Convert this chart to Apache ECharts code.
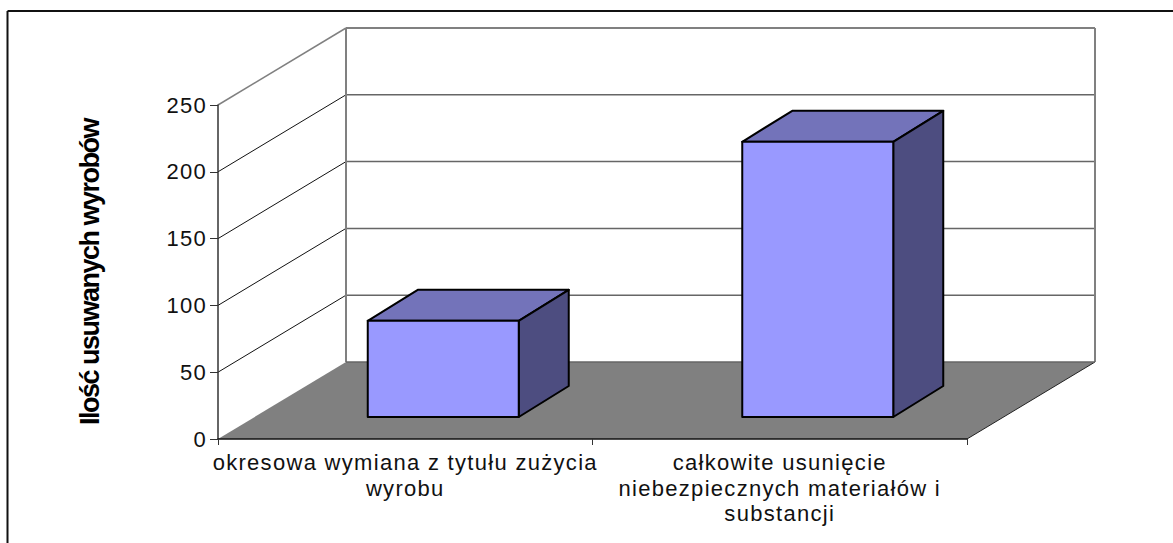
<!DOCTYPE html>
<html>
<head>
<meta charset="utf-8">
<title>Ilość usuwanych wyrobów</title>
<script src="https://cdn.jsdelivr.net/npm/echarts@6/dist/echarts.min.js"></script>
<style>
  html, body { margin: 0; padding: 0; background: #ffffff; }
  #chart { width: 1173px; height: 543px; }
  /* the original text is set wider than Arial, the bold axis title squeezed */
  #chart text { letter-spacing: 1.3px; }
  #chart text[style*="bold"] { letter-spacing: -1.5px; }
</style>
</head>
<body>
<div id="chart"></div>
<script>
  const categories = [
    'okresowa wymiana z tytułu zużycia\nwyrobu',
    'całkowite usunięcie\nniebezpiecznych materiałów i\nsubstancji'
  ];
  const removedCounts = [72, 206];
  const yTicks = [0, 50, 100, 150, 200, 250];
  const yTitle = 'Ilość usuwanych wyrobów';

  const fontName = '"Liberation Sans", Arial, sans-serif';

  // fake 3D: how far the back wall and the bar depth sit from the front plane
  const WALL_DX = 128, WALL_DY = -77;
  const BAR_SHIFT_X = 38, BAR_SHIFT_Y = -22;
  const BAR_DX = 50, BAR_DY = -31;
  const BAR_RATIO = 151 / 374.5;

  function renderWalls(params, api) {
    const band = api.size([1, 0])[0];
    const left = api.coord([0, 0])[0] - band / 2;
    const right = left + band * categories.length;
    const y0 = api.coord([0, 0])[1];
    const children = [];

    children.push({
      type: 'polygon',
      shape: {
        points: [[left, y0], [right, y0], [right + WALL_DX, y0 + WALL_DY], [left + WALL_DX, y0 + WALL_DY]]
      },
      style: { fill: '#808080' }
    });
    children.push({
      type: 'line',
      shape: { x1: right, y1: y0, x2: right + WALL_DX, y2: y0 + WALL_DY },
      style: { stroke: '#222222', lineWidth: 1 }
    });

    yTicks.forEach(function (t, i) {
      if (i === 0) return;
      const y = api.coord([0, t])[1];
      const last = i === yTicks.length - 1;
      children.push({
        type: 'line',
        shape: { x1: left, y1: y, x2: left + WALL_DX, y2: y + WALL_DY },
        style: { stroke: last ? '#808080' : '#111111', lineWidth: last ? 1.5 : 1 }
      });
      children.push({
        type: 'line',
        shape: { x1: left + WALL_DX, y1: y + WALL_DY, x2: right + WALL_DX, y2: y + WALL_DY },
        style: { stroke: last ? '#808080' : '#666666', lineWidth: last ? 2 : 1.5 }
      });
    });

    const top = api.coord([0, yTicks[yTicks.length - 1]])[1] + WALL_DY;
    [left + WALL_DX, right + WALL_DX].forEach(function (x) {
      children.push({
        type: 'line',
        shape: { x1: x, y1: top, x2: x, y2: y0 + WALL_DY },
        style: { stroke: '#808080', lineWidth: 2 }
      });
    });
    children.push({
      type: 'line',
      shape: { x1: left + WALL_DX, y1: y0 + WALL_DY, x2: right + WALL_DX, y2: y0 + WALL_DY },
      style: { stroke: '#666666', lineWidth: 1.5 }
    });

    return { type: 'group', children: children };
  }

  function renderBar(params, api) {
    const idx = api.value(0);
    const topPt = api.coord([idx, api.value(1)]);
    const basePt = api.coord([idx, 0]);
    const w = api.size([1, 0])[0] * BAR_RATIO;
    const x1 = topPt[0] + BAR_SHIFT_X - w / 2;
    const x2 = x1 + w;
    const yt = topPt[1] + BAR_SHIFT_Y;
    const yb = basePt[1] + BAR_SHIFT_Y;
    const edge = { stroke: '#000000', lineWidth: 2, lineJoin: 'round' };

    return {
      type: 'group',
      children: [
        {
          type: 'polygon',
          shape: { points: [[x1, yt], [x2, yt], [x2 + BAR_DX, yt + BAR_DY], [x1 + BAR_DX, yt + BAR_DY]] },
          style: Object.assign({ fill: '#7373BA' }, edge)
        },
        {
          type: 'polygon',
          shape: { points: [[x2, yt], [x2 + BAR_DX, yt + BAR_DY], [x2 + BAR_DX, yb + BAR_DY], [x2, yb]] },
          style: Object.assign({ fill: '#4D4D80' }, edge)
        },
        {
          type: 'rect',
          shape: { x: x1, y: yt, width: w, height: yb - yt },
          style: Object.assign({ fill: '#9999FF' }, edge)
        }
      ]
    };
  }

  const myChart = echarts.init(document.getElementById('chart'), null, { renderer: 'svg' });

  const chartOption = {
    animation: false,
    backgroundColor: '#ffffff',
    textStyle: { fontFamily: fontName },
    grid: { left: 218, right: 206, top: 105, bottom: 104 },
    xAxis: {
      type: 'category',
      data: categories,
      z: 5,
      axisLine: { lineStyle: { color: '#111111', width: 1.5 } },
      axisTick: { show: true, alignWithLabel: false, length: 6, lineStyle: { color: '#333333', width: 1 } },
      axisLabel: {
        interval: 0,
        margin: 11,
        color: '#111111',
        fontSize: 22,
        lineHeight: 25.5,
        fontFamily: fontName
      }
    },
    yAxis: {
      type: 'value',
      min: 0,
      max: 250,
      interval: 50,
      z: 5,
      name: yTitle,
      nameLocation: 'middle',
      nameRotate: 90,
      nameGap: 115,
      nameTextStyle: { color: '#000000', fontSize: 27, fontWeight: 'bold', fontFamily: fontName },
      splitLine: { show: false },
      axisLine: { show: true, lineStyle: { color: '#333333', width: 1.5 } },
      axisTick: { show: true, length: 8, lineStyle: { color: '#333333', width: 1 } },
      axisLabel: { margin: 11, color: '#111111', fontSize: 22, fontFamily: fontName }
    },
    series: [
      {
        type: 'custom',
        name: 'walls',
        silent: true,
        z: 1,
        renderItem: renderWalls,
        data: [[0, 0]]
      },
      {
        type: 'custom',
        name: 'Ilość',
        z: 2,
        renderItem: renderBar,
        encode: { x: 0, y: 1 },
        data: removedCounts.map(function (v, i) { return [i, v]; })
      }
    ],
    graphic: [
      { type: 'line', shape: { x1: 7.5, y1: 11, x2: 1173, y2: 11 }, style: { stroke: '#111111', lineWidth: 2 } },
      { type: 'line', shape: { x1: 7.5, y1: 11, x2: 7.5, y2: 543 }, style: { stroke: '#111111', lineWidth: 2 } }
    ]
  };

  myChart.setOption(chartOption);
</script>
</body>
</html>
